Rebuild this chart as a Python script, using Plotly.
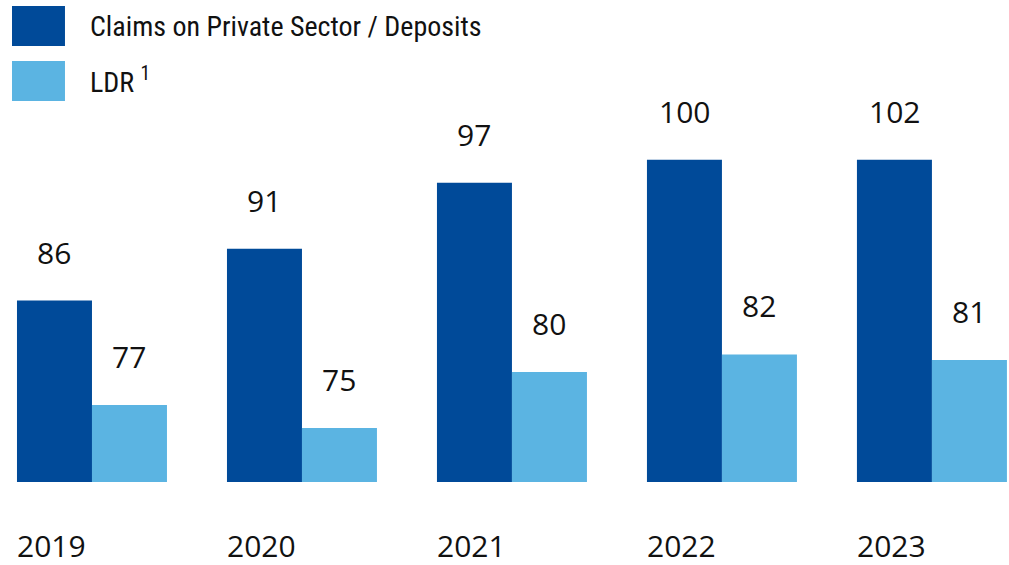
import plotly.graph_objects as go

# data
years = ["2019", "2020", "2021", "2022", "2023"]
claims_labels = ["86", "91", "97", "100", "102"]
ldr_labels = ["77", "75", "80", "82", "81"]
# bar heights as drawn in the picture (axis starts at 70)
claims = [86.5, 91.2, 97.2, 99.3, 99.3]
ldr = [77, 74.9, 80, 81.6, 81.1]

dark = "rgb(0,74,153)"
light = "rgb(91,180,226)"
num_font = dict(family="Open Sans, DejaVu Sans, sans-serif", size=30, color="#111111")
leg_font = dict(family="Liberation Sans Narrow, Roboto Condensed, Liberation Sans, sans-serif",
                size=28, color="#111111")

xs = list(range(len(years)))

fig = go.Figure()
fig.add_trace(go.Bar(x=xs, y=claims, marker=dict(color=dark, line=dict(width=0)),
                     name="Claims on Private Sector / Deposits"))
fig.add_trace(go.Bar(x=xs, y=ldr, marker=dict(color=light, line=dict(width=0)),
                     name="LDR"))

# value labels above the bars
for i in xs:
    fig.add_annotation(x=i, y=claims[i], text=claims_labels[i], showarrow=False,
                       xshift=-37.5, yshift=26, yanchor="bottom", font=num_font)
    fig.add_annotation(x=i, y=ldr[i], text=ldr_labels[i], showarrow=False,
                       xshift=37.5, yshift=26, yanchor="bottom", font=num_font)
    # year labels under the dark bars
    fig.add_annotation(x=i, y=0, yref="paper", text=years[i], showarrow=False,
                       xshift=-40, yshift=-41, yanchor="top", font=num_font)

# hand-made legend
fig.add_shape(type="rect", xref="paper", yref="paper", x0=0.0119, x1=0.0644,
              y0=0.9046, y1=0.9876, fillcolor=dark, line=dict(width=0))
fig.add_shape(type="rect", xref="paper", yref="paper", x0=0.0119, x1=0.0644,
              y0=0.7905, y1=0.8734, fillcolor=light, line=dict(width=0))
fig.add_annotation(x=0.0872, y=0.946, xref="paper", yref="paper", xanchor="left",
                   yanchor="middle", showarrow=False,
                   text="Claims on Private Sector / Deposits", font=leg_font)
fig.add_annotation(x=0.0872, y=0.832, xref="paper", yref="paper", xanchor="left",
                   yanchor="middle", showarrow=False,
                   text="LDR <sup>1</sup>", font=leg_font)

fig.update_layout(
    width=1009, height=565,
    margin=dict(l=0, r=0, t=0, b=83),
    barmode="group", bargap=0.2857, bargroupgap=0,
    showlegend=False,
    plot_bgcolor="white", paper_bgcolor="white",
    xaxis=dict(range=[-0.438, 4.367], visible=False),
    yaxis=dict(range=[70, 113.82], visible=False),
)

# drop the default page margin so the figure sits at the window's corner
fig.write_html("out.html", config={"displayModeBar": False},
               post_script="document.body.style.margin='0';")
